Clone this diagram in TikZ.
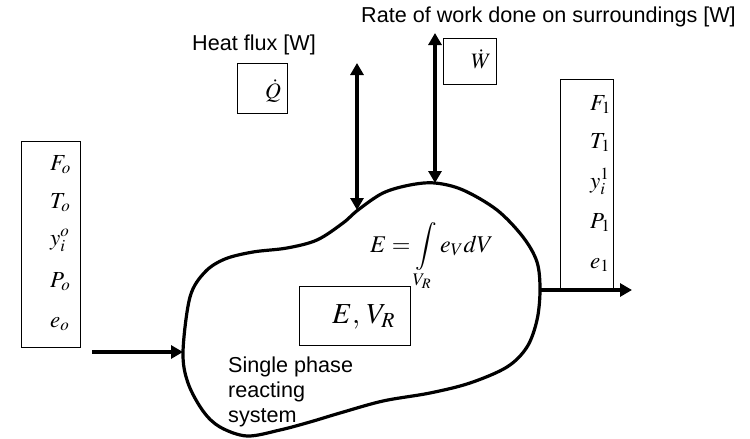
\documentclass[tikz,border=0pt]{standalone}
\usepackage{mathptmx}
\usepackage[no-math]{fontspec}
\setsansfont{Liberation Sans}
\usepackage{tikz}
\usetikzlibrary{arrows.meta, positioning}

\tikzset{
  varbox/.style={draw, line width=0.8pt, inner sep=0pt},
  flow/.style={line width=3.2pt, -{Triangle[length=12pt, width=13pt]}},
  duty/.style={line width=3.2pt,
    {Triangle[length=12pt, width=13pt]}-{Triangle[length=12pt, width=13pt]}},
  lbl/.style={font=\sffamily\fontsize{21.6}{25}\selectfont, anchor=base west,
    inner sep=0pt},
  sym/.style={font=\fontsize{23}{27}\selectfont, anchor=base west, inner sep=0pt},
}

\begin{document}
\begin{tikzpicture}[x=1pt, y=-1pt]
  \useasboundingbox (0,0) rectangle (750,439);

  %% --- Control volume ---
  \draw[line width=3.2pt] plot[smooth cycle, tension=0.55] coordinates {
    (183,352) (190,297) (205,272) (225,259) (253,252) (287,248) (317,240)
    (343,223) (358,210) (383,193) (410,185) (435,183) (463,190) (497,210)
    (523,237) (537,262) (540,290) (537,320) (527,347) (507,367) (470,383)
    (430,393) (383,401) (340,413) (310,422) (280,430) (247,436) (220,427)
    (203,411) (188,383)};
  \coordinate (inlet)  at (183,352);
  \coordinate (outlet) at (540,290);
  \coordinate (qwall)  at (357,210);
  \coordinate (wwall)  at (435,183);

  %% --- Feed stream ---
  \node[varbox, minimum width=59pt, minimum height=206pt] (feedbox) at (50.5,244) {};
  \foreach \y/\lbl [count=\i] in {170/F_o, 208/T_o, 245/y_i^o, 287/P_o, 327/e_o} {
    \node[sym] (feed\i) at (50,\y) {$\lbl$};
  }
  \coordinate (feedtail) at (92,352);
  \draw[flow] (feedtail) -- (inlet);

  %% --- Product stream ---
  \node[varbox, minimum width=53pt, minimum height=209pt] (prodbox) at (586.5,183.5) {};
  \foreach \y/\lbl [count=\i] in {110/F_1, 148/T_1, 188/y_i^1, 228/P_1, 268/e_1} {
    \node[sym] (prod\i) at (590,\y) {$\lbl$};
  }
  \coordinate (prodtip) at (632,290);
  \draw[flow] (outlet) -- (prodtip);

  %% --- Heat flux ---
  \node[lbl] (heatlbl) at (192,50) {Heat flux [W]};
  \node[varbox, minimum width=50pt, minimum height=50pt] (qbox) at (262,88) {};
  \node[sym, font=\fontsize{22}{26}\selectfont] (qdot) at (265,98) {$\dot{Q}$};
  \coordinate (qtop) at (357,63);
  \draw[duty] (qtop) -- (qwall);

  %% --- Work ---
  \node[lbl] (worklbl) at (361,23) {Rate of work done on surroundings [W]};
  \node[varbox, minimum width=53pt, minimum height=46pt] (wbox) at (469.5,61) {};
  \node[sym, font=\fontsize{22}{26}\selectfont] (wdot) at (471,68) {$\dot{W}$};
  \coordinate (wtop) at (435,33);
  \draw[duty] (wtop) -- (wwall);

  %% --- Inside the system ---
  \node[sym, font=\fontsize{24}{28}\selectfont] (energy) at (370,252)
    {$\displaystyle E = \int\limits_{V_R} e_V dV$};
  \node[varbox, minimum width=111pt, minimum height=59pt] (statebox) at (354.5,315.5) {};
  \node[sym, font=\fontsize{29}{33}\selectfont] (state) at (332,323) {$E,\,V_R$};
  \node[lbl] (sys1) at (228,372) {Single phase};
  \node[lbl] (sys2) at (228,397) {reacting};
  \node[lbl] (sys3) at (228,422) {system};
\end{tikzpicture}
\end{document}
